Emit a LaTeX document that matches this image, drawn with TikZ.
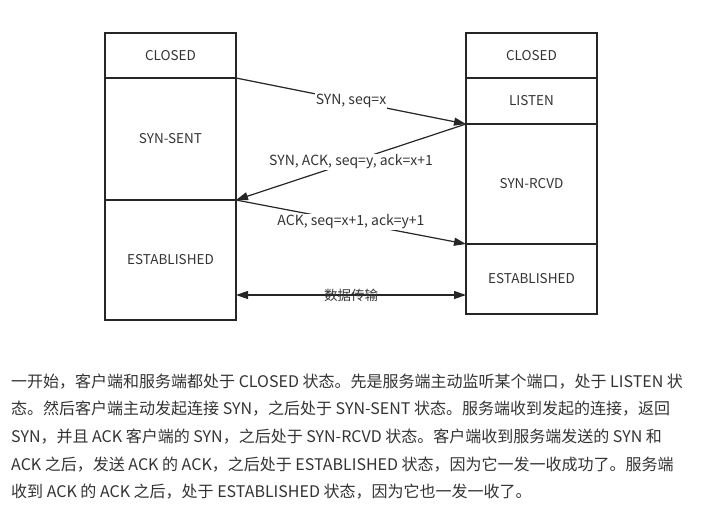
\documentclass[tikz,border=0pt]{standalone}
\usepackage{fontspec}
\setmainfont{Noto Sans CJK SC}
\usetikzlibrary{positioning,arrows.meta}
\definecolor{txtgray}{HTML}{333333}
\definecolor{linegray}{HTML}{262626}

\tikzset{
  cell/.style={draw=linegray, line width=1.2pt, minimum width=131pt, inner sep=0pt, outer sep=0pt,
    text=txtgray, font=\fontsize{13.5}{13.5}\selectfont},
  tip/.style={Triangle[length=12pt,width=8pt]},
  msg/.style={-{Triangle[length=12pt,width=8pt]}, line width=1.2pt, draw=linegray},
  lbl/.style={fill=white, inner sep=1pt, text=txtgray, font=\fontsize{14}{14}\selectfont},
}

\begin{document}
\begin{tikzpicture}[x=1pt,y=-1pt]
  \useasboundingbox (0,0) rectangle (725,511);
  % client side
  \node[cell, minimum height=45pt, anchor=north west] (lclosed) at (105,33) {CLOSED};
  \node[cell, minimum height=122pt, below=0pt of lclosed] (lsent) {SYN-SENT};
  \node[cell, minimum height=120pt, below=0pt of lsent] (lest) {ESTABLISHED};
  % server side
  \node[cell, minimum height=45pt, anchor=north west] (rclosed) at (466,33) {CLOSED};
  \node[cell, minimum height=46pt, below=0pt of rclosed] (rlisten) {LISTEN};
  \node[cell, minimum height=120pt, below=0pt of rlisten] (rrcvd) {SYN-RCVD};
  \node[cell, minimum height=70pt, below=0pt of rrcvd] (rest) {ESTABLISHED};
  % handshake
  \draw[msg] (lsent.north east) -- node[lbl] (syn) {SYN, seq=x} (rrcvd.north west);
  \draw[msg] (rrcvd.north west) -- node[lbl] (synack) {SYN, ACK, seq=y, ack=x+1} (lest.north east);
  \draw[msg] (lest.north east) -- node[lbl] (ack) {ACK, seq=x+1, ack=y+1} (rest.north west);
  \draw[msg, {Triangle[length=12pt,width=8pt]}-{Triangle[length=12pt,width=8pt]}]
    ([yshift=25pt]lest.south east) -- node[text=txtgray, font=\fontsize{13.5}{13.5}\selectfont] (data) {数据传输}
    ([yshift=19pt]rest.south west);
  % text below
  \node[anchor=west, align=left, inner sep=0pt, text=txtgray,
    font=\fontsize{16}{27.7}\selectfont] (para) at (11,436.5) {%
    一开始，客户端和服务端都处于 CLOSED 状态。先是服务端主动监听某个端口，处于 LISTEN 状\\
    态。然后客户端主动发起连接 SYN，之后处于 SYN-SENT 状态。服务端收到发起的连接，返回\\
    SYN，并且 ACK 客户端的 SYN，之后处于 SYN-RCVD 状态。客户端收到服务端发送的 SYN 和\\
    ACK 之后，发送 ACK 的 ACK，之后处于 ESTABLISHED 状态，因为它一发一收成功了。服务端\\
    收到 ACK 的 ACK 之后，处于 ESTABLISHED 状态，因为它也一发一收了。};
\end{tikzpicture}
\end{document}
